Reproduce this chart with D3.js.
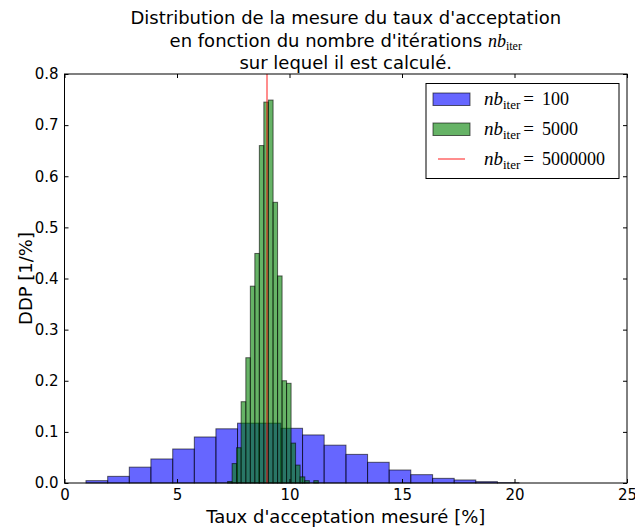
<!DOCTYPE html>
<html>
<head>
<meta charset="utf-8">
<script src="https://cdn.jsdelivr.net/npm/d3@7"></script>
<style>
  html, body { margin: 0; padding: 0; background: #fff; }
  svg { display: block; }
</style>
</head>
<body>
<svg id="chart" width="635" height="529"></svg>
<script>
// ---- Data ----
const blueEdges = [0.955, 1.92, 2.88, 3.84, 4.81, 5.77, 6.73, 7.69, 8.65, 9.62, 10.58,
                   11.54, 12.51, 13.47, 14.43, 15.39, 16.36, 17.32, 18.28, 19.24, 20.2];
const blueValues = [0.0046, 0.013, 0.031, 0.047, 0.0665, 0.09, 0.106, 0.117, 0.117, 0.107,
                    0.094, 0.074, 0.056, 0.0405, 0.0254, 0.0163, 0.0091, 0.0059, 0.0026, 0.0007];
const greenEdges = [7.25, 7.45, 7.65, 7.85, 8.06, 8.26, 8.46, 8.66, 8.86, 9.06, 9.27,
                    9.47, 9.67, 9.87, 10.07, 10.27, 10.47, 10.68, 10.88, 11.08, 11.28];
const greenValues = [0.003, 0.038, 0.069, 0.159, 0.245, 0.385, 0.449, 0.66, 0.745, 0.749,
                     0.549, 0.405, 0.2, 0.195, 0.078, 0.035, 0.012, 0.0046, 0, 0.0046];
const redValue = 9.0;
const xTicks = [0, 5, 10, 15, 20, 25];
const yTicks = [0.0, 0.1, 0.2, 0.3, 0.4, 0.5, 0.6, 0.7, 0.8];
const legendLabels = ["100", "5000", "5000000"];
const titleLines = ["Distribution de la mesure du taux d'acceptation",
                    "en fonction du nombre d'itérations ",
                    "sur lequel il est calculé."];
const xLabel = "Taux d'acceptation mesuré [%]";
const yLabel = "DDP [1/%]";

// ---- Layout ----
const L = 64.5, R = 627, T = 74, B = 483;
const svg = d3.select("#chart");
const x = d3.scaleLinear().domain([0, 25]).range([L, R]);
const y = d3.scaleLinear().domain([0, 0.8]).range([B, T]);
const sans = "'DejaVu Sans', sans-serif";
const serif = "'Liberation Serif', 'DejaVu Serif', serif";

const blueBins = blueValues.map((v, i) => ({x0: blueEdges[i], x1: blueEdges[i + 1], v}));
const greenBins = greenValues.map((v, i) => ({x0: greenEdges[i], x1: greenEdges[i + 1], v}));

const plot = svg.append("g");
function drawBins(bins, color) {
  plot.append("g").selectAll("rect").data(bins.filter(d => d.v > 0)).join("rect")
    .attr("x", d => x(d.x0))
    .attr("width", d => x(d.x1) - x(d.x0))
    .attr("y", d => y(d.v))
    .attr("height", d => y(0) - y(d.v))
    .attr("fill", color).attr("fill-opacity", 0.6)
    .attr("stroke", "#000").attr("stroke-opacity", 0.6).attr("stroke-width", 1);
}
drawBins(blueBins, "#0000ff");
drawBins(greenBins, "#008000");

plot.append("line")
  .attr("x1", x(redValue)).attr("x2", x(redValue))
  .attr("y1", y(0)).attr("y2", y(0.8))
  .attr("stroke", "#ff0000").attr("stroke-opacity", 0.6).attr("stroke-width", 1.5);

// ---- Axes (ticks inward on all four sides) ----
function styleAxis(g) {
  g.select(".domain").remove();
  g.selectAll(".tick line").attr("stroke", "#000").attr("stroke-width", 1);
  g.selectAll(".tick text").attr("fill", "#000").style("font-family", sans).style("font-size", "15px");
}
svg.append("g").attr("transform", `translate(0,${B})`)
  .call(d3.axisBottom(x).tickValues(xTicks).tickFormat(d3.format("d")).tickSizeInner(-4).tickSizeOuter(0).tickPadding(6))
  .call(styleAxis);
svg.append("g").attr("transform", `translate(0,${T})`)
  .call(d3.axisTop(x).tickValues(xTicks).tickFormat("").tickSizeInner(-4).tickSizeOuter(0))
  .call(styleAxis);
svg.append("g").attr("transform", `translate(${L},0)`)
  .call(d3.axisLeft(y).tickValues(yTicks).tickFormat(d3.format(".1f")).tickSizeInner(-4).tickSizeOuter(0).tickPadding(6))
  .call(styleAxis);
svg.append("g").attr("transform", `translate(${R},0)`)
  .call(d3.axisRight(y).tickValues(yTicks).tickFormat("").tickSizeInner(-4).tickSizeOuter(0))
  .call(styleAxis);

svg.append("rect").attr("x", L).attr("y", T).attr("width", R - L).attr("height", B - T)
  .attr("fill", "none").attr("stroke", "#000").attr("stroke-width", 1);

// ---- Labels ----
svg.append("text").attr("x", (L + R) / 2).attr("y", 523).attr("text-anchor", "middle")
  .style("font-family", sans).style("font-size", "18px").text(xLabel);
svg.append("text").attr("transform", `translate(32,${(T + B) / 2}) rotate(-90)`)
  .attr("text-anchor", "middle")
  .style("font-family", sans).style("font-size", "18px").text(yLabel);

// ---- Title ----
const titleY = [24, 47, 69];
titleLines.forEach((line, i) => {
  const t = svg.append("text").attr("x", (L + R) / 2).attr("y", titleY[i])
    .attr("text-anchor", "middle").style("font-family", sans).style("font-size", "18px");
  t.append("tspan").text(line);
  if (i === 1) {
    t.append("tspan").style("font-family", serif).style("font-style", "italic").style("font-size", "18px").text("nb");
    t.append("tspan").style("font-family", serif).style("font-size", "12px").attr("dy", 3).text("iter");
  }
});

// ---- Legend ----
const lg = svg.append("g");
lg.append("rect").attr("x", 426).attr("y", 83.5).attr("width", 193).attr("height", 95)
  .attr("fill", "#fff").attr("stroke", "#000").attr("stroke-width", 1);
const legendItems = [
  {type: "patch", color: "#0000ff", label: legendLabels[0]},
  {type: "patch", color: "#008000", label: legendLabels[1]},
  {type: "line", color: "#ff0000", label: legendLabels[2]}
];
legendItems.forEach((it, i) => {
  const cy = 99 + i * 30;
  if (it.type === "patch") {
    lg.append("rect").attr("x", 433).attr("y", cy - 6).attr("width", 37).attr("height", 12.5)
      .attr("fill", it.color).attr("fill-opacity", 0.6)
      .attr("stroke", "#000").attr("stroke-opacity", 0.6).attr("stroke-width", 1);
  } else {
    lg.append("line").attr("x1", 438).attr("x2", 465).attr("y1", cy).attr("y2", cy)
      .attr("stroke", it.color).attr("stroke-opacity", 0.6).attr("stroke-width", 1.5);
  }
  const t = lg.append("text").attr("x", 484).attr("y", cy + 6).style("font-family", serif).style("font-size", "19px");
  t.append("tspan").style("font-style", "italic").text("nb");
  t.append("tspan").style("font-size", "13px").attr("dy", 3.5).text("iter");
  t.append("tspan").attr("dy", -3.5).attr("dx", 3).text("=");
  t.append("tspan").attr("dx", 8).style("font-size", "18px").text(it.label);
});
</script>
</body>
</html>
